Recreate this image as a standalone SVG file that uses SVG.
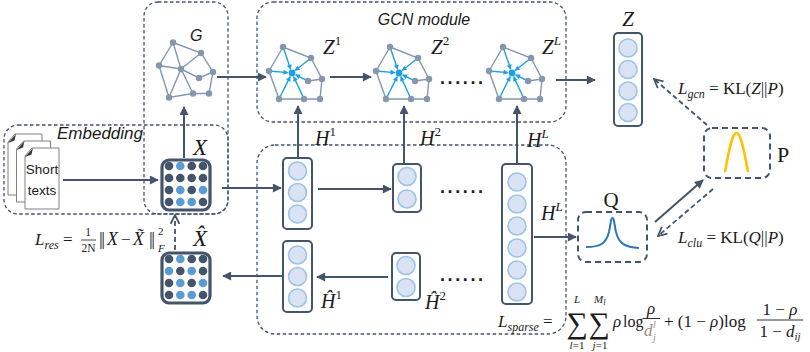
<svg xmlns="http://www.w3.org/2000/svg" width="810" height="352" viewBox="0 0 810 352">
<style>
.frame{fill:none;stroke:#44546a;stroke-width:1.3;stroke-dasharray:3.5 2.5}
.dbox{fill:#fff;stroke:#44546a;stroke-width:2;stroke-dasharray:6 4}
.col{fill:#fff;stroke:#44546a;stroke-width:2}
.cell{fill:#dae3f3;stroke:#9dc3e6;stroke-width:1.6}
.mat{fill:#fff;stroke:#44546a;stroke-width:3.2}
.dk{fill:#44546a}
.lt{fill:#5b9bd5}
.edge{stroke:#8497b0;stroke-width:1.4;fill:none}
.gn{fill:#8497b0}
.msg{stroke:#1ba1e2;stroke-width:1.4;fill:none;marker-end:url(#ab)}
.arr{stroke:#44546a;stroke-width:2;fill:none;marker-end:url(#ah)}
.darr{stroke:#44546a;stroke-width:1.8;fill:none;stroke-dasharray:5 3;marker-end:url(#ao)}
.m{font-family:"Liberation Serif","DejaVu Serif",serif;fill:#1a1a1a}
.i{font-style:italic}
.s{font-family:"Liberation Sans",Arial,sans-serif;fill:#1a1a1a}
.page{fill:#fff;stroke:#808080;stroke-width:1}
.curl{fill:#3a3a3a}
.dots{font-family:"Liberation Sans",Arial,sans-serif;font-weight:bold;font-size:18px;letter-spacing:2.6px;fill:#1a1a1a}
.dj{fill:#a08878}
</style>
<defs>
  <marker id="ah" viewBox="0 0 10 10" refX="9" refY="5" markerWidth="10" markerHeight="9" markerUnits="userSpaceOnUse" orient="auto">
    <path d="M0,0 L10,5 L0,10 Z" fill="#44546a"/>
  </marker>
  <marker id="ao" viewBox="0 0 10 10" refX="9" refY="5" markerWidth="11" markerHeight="11" markerUnits="userSpaceOnUse" orient="auto">
    <path d="M1,1 L9,5 L1,9" fill="none" stroke="#44546a" stroke-width="1.6"/>
  </marker>
  <marker id="ab" viewBox="0 0 10 10" refX="9" refY="5" markerWidth="6" markerHeight="5" markerUnits="userSpaceOnUse" orient="auto">
    <path d="M0,0 L10,5 L0,10 Z" fill="#1ba1e2"/>
  </marker>
  <!-- graph drawn with message passing toward the centre vertex -->
  <g id="gcn-graph">
    <path class="edge" d="M14,-24 L42,-13 L53,8 L51,28 L35,28 L10,28 L0,0 Z M39,10 L53,8"/>
    <line class="msg" x1="14" y1="-24" x2="21.7" y2="-1.8"/>
    <line class="msg" x1="42" y1="-13" x2="26.1" y2="-0.5"/>
    <line class="msg" x1="0" y1="0" x2="19" y2="1.6"/>
    <line class="msg" x1="39" y1="10" x2="26.6" y2="3.8"/>
    <line class="msg" x1="10" y1="28" x2="21.2" y2="5.6"/>
    <line class="msg" x1="35" y1="28" x2="24.7" y2="5.6"/>
    <g class="gn">
      <circle cx="14" cy="-24" r="3.2"/><circle cx="42" cy="-13" r="3.2"/><circle cx="0" cy="0" r="3.2"/>
      <circle cx="39" cy="10" r="3.2"/><circle cx="53" cy="8" r="3.2"/><circle cx="10" cy="28" r="3.2"/>
      <circle cx="35" cy="28" r="3.2"/><circle cx="51" cy="28" r="3.2"/>
    </g>
    <circle cx="23" cy="2" r="3.4" fill="#1ba1e2"/>
  </g>
  <g id="doc">
    <path class="page" d="M7,0 H34 V61 H0 V8 Z"/>
    <path class="curl" d="M0,9 L8,0 L6.5,6.5 Z"/>
  </g>
</defs>

<!-- dashed frames -->
<g id="frames">
  <rect class="frame" x="144" y="2" width="84" height="212" rx="14"/>
  <rect class="frame" x="4" y="125" width="224" height="89" rx="14"/>
  <rect class="frame" x="257" y="2" width="309" height="120" rx="16"/>
  <rect class="frame" x="257" y="145" width="309" height="189" rx="18"/>
</g>

<g id="label-embedding"><text class="s i" x="57" y="139" font-size="17">Embedding</text></g>
<g id="label-gcn"><text class="s i" x="424" y="25" font-size="16" text-anchor="middle">GCN module</text></g>

<!-- short texts -->
<g id="short-texts">
  <use href="#doc" x="8" y="134"/>
  <use href="#doc" x="16.5" y="141"/>
  <use href="#doc" x="25" y="148"/>
  <text class="s" x="42" y="174" font-size="13.5" text-anchor="middle">Short</text>
  <text class="s" x="42" y="195" font-size="13.5" text-anchor="middle">texts</text>
</g>

<!-- graph G -->
<g id="graph-g">
  <path class="edge" d="M173,42.5 L201,53 L213,72 L209,93.5 L193,93.5 L169,97.5 L159,65.5 Z M173,42.5 L181,69 M201,53 L181,69 M159,65.5 L181,69 L199,78 L213,72 M181,69 L169,97.5 M181,69 L193,93.5"/>
  <g class="gn">
    <circle cx="173" cy="42.5" r="3.2"/><circle cx="201" cy="53" r="3.2"/><circle cx="159" cy="65.5" r="3.2"/>
    <circle cx="181" cy="69" r="3.2"/><circle cx="199" cy="78" r="3.2"/><circle cx="213" cy="72" r="3.2"/>
    <circle cx="169" cy="97.5" r="3.2"/><circle cx="193" cy="93.5" r="3.2"/><circle cx="209" cy="93.5" r="3.2"/>
  </g>
  <text class="s i" x="190" y="41" font-size="16">G</text>
</g>

<!-- GCN layers -->
<g id="z1">
  <use href="#gcn-graph" x="269" y="71"/>
  <text class="m i" x="323" y="54" font-size="21">Z<tspan font-style="normal" font-size="13" dy="-9">1</tspan></text>
</g>
<g id="z2">
  <use href="#gcn-graph" x="376" y="71"/>
  <text class="m i" x="431" y="54" font-size="21">Z<tspan font-style="normal" font-size="13" dy="-9">2</tspan></text>
</g>
<g id="zl">
  <use href="#gcn-graph" x="489" y="71"/>
  <text class="m i" x="542" y="54" font-size="21">Z<tspan font-size="13" dy="-9">L</tspan></text>
</g>
<text class="dots" x="440" y="84">......</text>

<!-- Z output -->
<g id="z-out">
  <rect class="col" x="614" y="33" width="28" height="93" rx="4"/>
  <circle class="cell" cx="628" cy="48" r="9"/><circle class="cell" cx="628" cy="69.5" r="9"/>
  <circle class="cell" cx="628" cy="91" r="9"/><circle class="cell" cx="628" cy="112.5" r="9"/>
  <text class="m i" x="628" y="26" font-size="21" text-anchor="middle">Z</text>
</g>

<!-- feature matrices -->
<g id="x-matrix">
  <rect class="mat" x="162" y="160" width="48" height="50" rx="7"/>
  <circle class="dk" cx="169" cy="166" r="4.3"/><circle class="lt" cx="180.3" cy="166" r="4.3"/><circle class="dk" cx="191.7" cy="166" r="4.3"/><circle class="dk" cx="203" cy="166" r="4.3"/>
  <circle class="dk" cx="169" cy="178" r="4.3"/><circle class="dk" cx="180.3" cy="178" r="4.3"/><circle class="dk" cx="191.7" cy="178" r="4.3"/><circle class="dk" cx="203" cy="178" r="4.3"/>
  <circle class="dk" cx="169" cy="190" r="4.3"/><circle class="lt" cx="180.3" cy="190" r="4.3"/><circle class="dk" cx="191.7" cy="190" r="4.3"/><circle class="lt" cx="203" cy="190" r="4.3"/>
  <circle class="dk" cx="169" cy="202" r="4.3"/><circle class="lt" cx="180.3" cy="202" r="4.3"/><circle class="lt" cx="191.7" cy="202" r="4.3"/><circle class="dk" cx="203" cy="202" r="4.3"/>
  <text class="m i" x="200" y="155" font-size="23" text-anchor="middle">X</text>
</g>
<g id="xhat-matrix">
  <rect class="mat" x="162" y="253" width="48" height="50" rx="7"/>
  <circle class="dk" cx="169" cy="259" r="4.3"/><circle class="lt" cx="180.3" cy="259" r="4.3"/><circle class="dk" cx="191.7" cy="259" r="4.3"/><circle class="dk" cx="203" cy="259" r="4.3"/>
  <circle class="lt" cx="169" cy="271" r="4.3"/><circle class="dk" cx="180.3" cy="271" r="4.3"/><circle class="lt" cx="191.7" cy="271" r="4.3"/><circle class="dk" cx="203" cy="271" r="4.3"/>
  <circle class="dk" cx="169" cy="283" r="4.3"/><circle class="lt" cx="180.3" cy="283" r="4.3"/><circle class="dk" cx="191.7" cy="283" r="4.3"/><circle class="lt" cx="203" cy="283" r="4.3"/>
  <circle class="dk" cx="169" cy="295" r="4.3"/><circle class="lt" cx="180.3" cy="295" r="4.3"/><circle class="lt" cx="191.7" cy="295" r="4.3"/><circle class="dk" cx="203" cy="295" r="4.3"/>
  <text class="m i" x="200" y="246" font-size="23" text-anchor="middle">X&#770;</text>
</g>

<!-- autoencoder layers -->
<g id="h1">
  <rect class="col" x="283" y="158" width="29" height="71" rx="4"/>
  <circle class="cell" cx="297.5" cy="171" r="9"/><circle class="cell" cx="297.5" cy="192.5" r="9"/><circle class="cell" cx="297.5" cy="214" r="9"/>
  <text class="m i" x="315" y="145" font-size="20">H<tspan font-style="normal" font-size="13" dy="-9">1</tspan></text>
</g>
<g id="h2">
  <rect class="col" x="393" y="164" width="28" height="48" rx="4"/>
  <circle class="cell" cx="407" cy="176.5" r="9"/><circle class="cell" cx="407" cy="199" r="9"/>
  <text class="m i" x="420" y="145" font-size="20">H<tspan font-style="normal" font-size="13" dy="-9">2</tspan></text>
</g>
<g id="hl">
  <rect class="col" x="502" y="164" width="30" height="140" rx="4"/>
  <circle class="cell" cx="517" cy="182" r="9"/><circle class="cell" cx="517" cy="204" r="9"/><circle class="cell" cx="517" cy="226" r="9"/>
  <circle class="cell" cx="517" cy="248" r="9"/><circle class="cell" cx="517" cy="270" r="9"/><circle class="cell" cx="517" cy="292" r="9"/>
  <text class="m i" x="527" y="147" font-size="20">H<tspan font-size="13" dy="-9">L</tspan></text>
  <text class="m i" x="541" y="220" font-size="20">H<tspan font-size="13" dy="-9">L</tspan></text>
</g>
<g id="hhat1">
  <rect class="col" x="283" y="241" width="29" height="71" rx="4"/>
  <circle class="cell" cx="297.5" cy="255" r="9"/><circle class="cell" cx="297.5" cy="276.5" r="9"/><circle class="cell" cx="297.5" cy="298" r="9"/>
  <text class="m i" x="321" y="308" font-size="20">Ĥ<tspan font-style="normal" font-size="13" dy="-9">1</tspan></text>
</g>
<g id="hhat2">
  <rect class="col" x="392" y="253" width="28" height="47" rx="4"/>
  <circle class="cell" cx="406" cy="265.5" r="9"/><circle class="cell" cx="406" cy="287.5" r="9"/>
  <text class="m i" x="425" y="309" font-size="20">Ĥ<tspan font-style="normal" font-size="13" dy="-9">2</tspan></text>
</g>
<text class="dots" x="440" y="193">......</text>
<text class="dots" x="440" y="281">......</text>

<!-- distributions -->
<g id="q-node">
  <rect class="dbox" x="578" y="212" width="69" height="50" rx="8"/>
  <path d="M586,247 C600,247 606,244 609,232 C611,222 611,218 612.5,218 C614,218 614,222 616,232 C619,244 625,247 639,248" fill="none" stroke="#2e75b6" stroke-width="2"/>
  <text class="m" x="611" y="207" font-size="21" text-anchor="middle">Q</text>
</g>
<g id="p-node">
  <rect class="dbox" x="704" y="128" width="66" height="50" rx="8"/>
  <path d="M725,172 C729,150 732,133 736.5,133 C741,133 744,150 748,172" fill="none" stroke="#ffc000" stroke-width="2.5"/>
  <text class="m" x="777" y="162" font-size="22">P</text>
</g>

<!-- connectors -->
<g id="connectors">
  <line class="arr" x1="63" y1="180" x2="158" y2="180"/>
  <line class="arr" x1="184" y1="158" x2="184" y2="107"/>
  <line class="darr" x1="175" y1="250" x2="175" y2="215"/>
  <line class="arr" x1="222" y1="188" x2="281" y2="188"/>
  <line class="arr" x1="282" y1="276" x2="223" y2="276"/>
  <line class="arr" x1="217" y1="77" x2="266" y2="77"/>
  <line class="arr" x1="330" y1="77" x2="371" y2="77"/>
  <line class="arr" x1="556" y1="80" x2="595" y2="80"/>
  <line class="arr" x1="298" y1="157" x2="298" y2="106"/>
  <line class="arr" x1="404" y1="163" x2="404" y2="106"/>
  <line class="arr" x1="517" y1="163" x2="517" y2="106"/>
  <line class="arr" x1="318" y1="189" x2="391" y2="189"/>
  <line class="arr" x1="388" y1="277" x2="317" y2="277"/>
  <line class="arr" x1="534" y1="237" x2="576" y2="237"/>
  <line class="arr" x1="655" y1="222" x2="703" y2="180"/>
  <line class="darr" x1="713" y1="189" x2="658" y2="236"/>
  <line class="darr" x1="707" y1="125" x2="654" y2="79"/>
</g>

<!-- loss terms -->
<g id="loss-gcn">
  <text class="m" x="678" y="94" font-size="17"><tspan class="i">L</tspan><tspan class="i" font-size="12" dy="4">gcn</tspan><tspan dy="-4"> = KL(</tspan><tspan class="i">Z</tspan>||<tspan class="i">P</tspan>)</text>
</g>
<g id="loss-clu">
  <text class="m" x="678" y="243" font-size="17"><tspan class="i">L</tspan><tspan class="i" font-size="12" dy="4">clu</tspan><tspan dy="-4"> = KL(</tspan><tspan class="i">Q</tspan>||<tspan class="i">P</tspan>)</text>
</g>
<g id="loss-res">
  <text class="m" x="35" y="245" font-size="17"><tspan class="i">L</tspan><tspan class="i" font-size="12" dy="4">res</tspan><tspan dy="-4"> =</tspan></text>
  <text class="m" x="88" y="236" font-size="11.5" text-anchor="middle">1</text>
  <line x1="81" y1="240" x2="96" y2="240" stroke="#1a1a1a" stroke-width="0.8"/>
  <text class="m" x="88.5" y="252" font-size="11.5" text-anchor="middle">2N</text>
  <text class="m" x="99" y="245" font-size="19" letter-spacing="-1.5">||</text>
  <text class="m i" x="107" y="245" font-size="18">X</text>
  <text class="m" x="121" y="245" font-size="17">−</text>
  <text class="m i" x="133" y="245" font-size="18">X&#771;</text>
  <text class="m" x="149" y="245" font-size="19" letter-spacing="-1.5">||</text>
  <text class="m" x="158" y="235" font-size="11">2</text>
  <text class="m i" x="158" y="252" font-size="11">F</text>
</g>
<g id="loss-sparse">
  <text class="m" x="498" y="327" font-size="17"><tspan class="i">L</tspan><tspan class="i" font-size="12" dy="4">sparse</tspan><tspan dy="-4"> =</tspan></text>
  <text class="m" x="566.5" y="333" font-size="30">∑</text>
  <text class="m" x="588.5" y="333" font-size="30">∑</text>
  <text class="m i" x="577" y="303" font-size="11" text-anchor="middle">L</text>
  <text class="m" x="577" y="349" font-size="11" text-anchor="middle"><tspan class="i">l</tspan>=1</text>
  <text class="m i" x="594" y="303" font-size="11">M<tspan font-size="8" dy="2">l</tspan></text>
  <text class="m" x="600" y="349" font-size="11" text-anchor="middle"><tspan class="i">j</tspan>=1</text>
  <text class="m i" x="613" y="327" font-size="17">ρ</text>
  <text class="m" x="623" y="327" font-size="16">log</text>
  <text class="m i" x="651" y="314" font-size="17" text-anchor="middle">ρ</text>
  <line x1="643" y1="318.5" x2="660" y2="318.5" stroke="#1a1a1a" stroke-width="0.9"/>
  <text class="m i dj" x="644" y="336" font-size="17">d</text>
  <text class="m i dj" x="653" y="328" font-size="10">l</text>
  <text class="m i dj" x="653" y="341" font-size="10">j</text>
  <text class="m" x="664" y="327" font-size="17">+ (1 − <tspan class="i">ρ</tspan>)log</text>
  <text class="m" x="780" y="315" font-size="17" text-anchor="middle">1 − <tspan class="i">ρ</tspan></text>
  <line x1="757" y1="320" x2="803" y2="320" stroke="#1a1a1a" stroke-width="0.9"/>
  <text class="m" x="780" y="337" font-size="17" text-anchor="middle">1 − <tspan class="i">d</tspan><tspan class="i" font-size="11" dy="3">ij</tspan></text>
</g>
</svg>
